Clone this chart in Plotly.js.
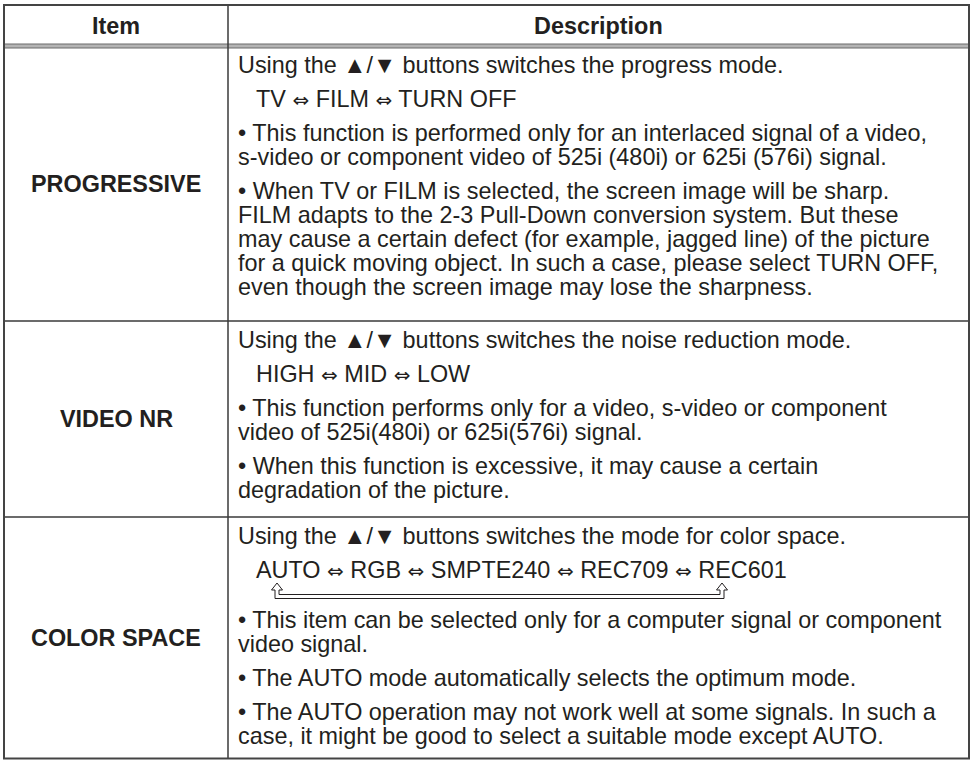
<!DOCTYPE html>
<html>
<head>
<meta charset="utf-8">
<script src="https://cdn.plot.ly/plotly-3.0.1.min.js"></script>
<style>
  html, body { margin: 0; padding: 0; background: #ffffff; }
  #chart { width: 972px; height: 760px; }
</style>
</head>
<body>
<div id="chart"></div>
<script>
// ---------- DATA ----------
const headerLabels = ["Item", "Description"];
const itemNames = ["PROGRESSIVE", "VIDEO NR", "COLOR SPACE"];

// Each description is a list of paragraphs; each paragraph is a list of lines.
const progressiveText = [
  ["Using the ▲/▼ buttons switches the progress mode."],
  ["TV ⇔ FILM ⇔ TURN OFF"],
  ["• This function is performed only for an interlaced signal of a video,",
   "s-video or component video of 525i (480i) or 625i (576i) signal."],
  ["• When TV or FILM is selected, the screen image will be sharp.",
   "FILM adapts to the 2-3 Pull-Down conversion system. But these",
   "may cause a certain defect (for example, jagged line) of the picture",
   "for a quick moving object. In such a case, please select TURN OFF,",
   "even though the screen image may lose the sharpness."]
];
const videoNrText = [
  ["Using the ▲/▼ buttons switches the noise reduction mode."],
  ["HIGH ⇔ MID ⇔ LOW"],
  ["• This function performs only for a video, s-video or component",
   "video of 525i(480i) or 625i(576i) signal."],
  ["• When this function is excessive, it may cause a certain",
   "degradation of the picture."]
];
const colorSpaceText = [
  ["Using the ▲/▼ buttons switches the mode for color space."],
  ["AUTO ⇔ RGB ⇔ SMPTE240 ⇔ REC709 ⇔ REC601"],
  ["• This item can be selected only for a computer signal or component",
   "video signal."],
  ["• The AUTO mode automatically selects the optimum mode."],
  ["• The AUTO operation may not work well at some signals. In such a",
   "case, it might be good to select a suitable mode except AUTO."]
];
const descriptions = [progressiveText, videoNrText, colorSpaceText];

// ---------- LAYOUT ----------
const W = 972, H = 760;
const xL = 4, xDiv = 228, xR = 969;
const yTop = 5, yHead = 46;
const rowTops = [46, 321, 517];
const yBot = 758.5;
const fs = 23.4;
const baseOff = 0.355 * fs;   // annotation middle -> baseline
const firstBase = 27;         // row top line -> first baseline
const lineP = 24;             // within paragraph
const paraQ = 34;             // between paragraphs
const bracketGap = 16;        // extra space below the mode loop bracket
const textX = 237, indentX = 255;
const fam = "Liberation Sans, Arial, Helvetica, DejaVu Sans, sans-serif";
const textFont = {family: fam, size: fs, color: "#231f20"};
const boldFont = {family: fam, size: 23.4, color: "#231f20", weight: "bold"};

function styleArrows(s) {
  return s.replace(/⇔/g, '<span style="font-family:DejaVu Sans;font-size:20px">⇔</span>');
}

const annotations = [];
const shapes = [];

function ann(x, y, text, font, xanchor) {
  annotations.push({x: x, y: y, xref: "x", yref: "y", text: text, showarrow: false,
    xanchor: xanchor, yanchor: "middle", font: font, borderpad: 0});
}

// header texts
ann((xL + xDiv) / 2, 25.5, "<b>" + headerLabels[0] + "</b>", boldFont, "center");
ann((xDiv + xR) / 2, 25.5, "<b>" + headerLabels[1] + "</b>", boldFont, "center");

const rowBottoms = rowTops.slice(1).concat([yBot]);
let bracketBase = null;
descriptions.forEach((paras, r) => {
  ann((xL + xDiv) / 2, (rowTops[r] + rowBottoms[r]) / 2, "<b>" + itemNames[r] + "</b>", boldFont, "center");
  let base = rowTops[r] + firstBase;
  paras.forEach((para, pi) => {
    if (pi > 0) {
      base += paraQ;
      if (r === 2 && pi === 2) { bracketBase = base - paraQ; base += bracketGap; }
    }
    para.forEach((line, li) => {
      if (li > 0) base += lineP;
      ann(pi === 1 ? indentX : textX, base - baseOff, styleArrows(line), textFont, "left");
    });
  });
});

// grid lines
const dark = "#3a3a3a";
function hline(y, x0, x1, w, c) { shapes.push({type: "line", xref: "x", yref: "y", x0: x0, x1: x1, y0: y, y1: y, line: {color: c, width: w}}); }
function vline(x, y0, y1, w, c) { shapes.push({type: "line", xref: "x", yref: "y", x0: x, x1: x, y0: y0, y1: y1, line: {color: c, width: w}}); }
// header double rule
shapes.push({type: "rect", xref: "x", yref: "y", x0: xL, x1: xR, y0: yHead - 2, y1: yHead + 2, fillcolor: "#b4b4b4", line: {color: "#6a6a6a", width: 1}});
rowTops.slice(1).forEach(y => hline(y, xL, xR, 1.5, dark));
vline(xDiv, yTop, yBot, 1.5, dark);
// outer frame
shapes.push({type: "rect", xref: "x", yref: "y", x0: xL, x1: xR, y0: yTop, y1: yBot, line: {color: "#444", width: 2}});

// loop bracket for the colour space modes
if (bracketBase !== null) {
  const a = 277, b = 722;
  const t = bracketBase + 5, m = t + 7, l1 = t + 11.5, l2 = t + 15.5;
  const hw = 5.5, sw = 2;
  const p = `M ${a} ${t} L ${a + hw} ${m} L ${a + sw} ${m} L ${a + sw} ${l1} L ${b - sw} ${l1} L ${b - sw} ${m} L ${b - hw} ${m} L ${b} ${t} L ${b + hw} ${m} L ${b + sw} ${m} L ${b + sw} ${l2} L ${a - sw} ${l2} L ${a - sw} ${m} L ${a - hw} ${m} Z`;
  shapes.push({type: "path", xref: "x", yref: "y", path: p, line: {color: "#231f20", width: 1}});
}

const layout = {
  width: W, height: H,
  margin: {l: 0, r: 0, t: 0, b: 0},
  paper_bgcolor: "#ffffff", plot_bgcolor: "#ffffff",
  xaxis: {range: [0, W], visible: false, fixedrange: true},
  yaxis: {range: [H, 0], visible: false, fixedrange: true},
  showlegend: false,
  annotations: annotations,
  shapes: shapes
};
Plotly.newPlot("chart", [], layout, {staticPlot: true, displayModeBar: false});
</script>
</body>
</html>
